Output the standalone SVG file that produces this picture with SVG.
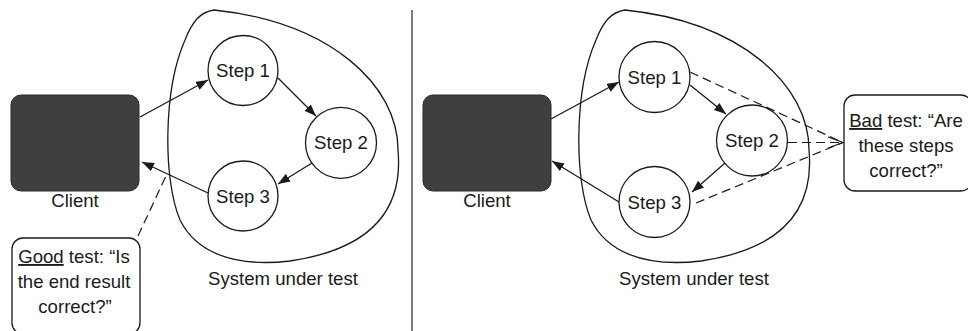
<svg xmlns="http://www.w3.org/2000/svg" width="968" height="331" viewBox="0 0 968 331">
<style>
text{font-family:"Liberation Sans",Arial,sans-serif;font-size:18.6px;fill:#1a1a1a}
.c{text-anchor:middle}
.step{fill:#fff;stroke:#1a1a1a;stroke-width:1.3}
.blob{fill:none;stroke:#1a1a1a;stroke-width:1.3}
.client{fill:#3f3f3f;stroke:#2a2a2a;stroke-width:1}
.note{fill:#fff;stroke:#1a1a1a;stroke-width:1.3}
.arr{stroke:#1a1a1a;stroke-width:1.3;fill:none;marker-end:url(#ah)}
.dash{stroke:#1a1a1a;stroke-width:1.2;fill:none;stroke-dasharray:9 5}
</style>
<defs>
<marker id="ah" markerUnits="userSpaceOnUse" markerWidth="13" markerHeight="10" refX="12" refY="4.5" orient="auto">
<path d="M0,0 L12,4.5 L0,9 z" fill="#1a1a1a"/>
</marker>
<path id="blobshape" d="M214,10 C330,22 398,85 398,150 C404,215 365,250 290,261 C230,268 195,250 180,220 C163,180 163,90 185,40 C192,22 200,12 214,10 Z"/>
</defs>

<line x1="412" y1="10" x2="412" y2="331" stroke="#333" stroke-width="1.3"/>

<!-- Left panel -->
<g id="sut-left">
<use href="#blobshape" class="blob"/>
<text class="c" x="283" y="285">System under test</text>
</g>
<g id="client-left">
<rect class="client" x="11" y="95" width="128" height="96" rx="10"/>
<text class="c" x="75" y="207">Client</text>
</g>
<g id="step1-left">
<circle class="step" cx="243" cy="70.5" r="35"/>
<text class="c" x="243" y="77">Step 1</text>
</g>
<g id="step2-left">
<circle class="step" cx="341" cy="142.8" r="35.5"/>
<text class="c" x="341" y="149.3">Step 2</text>
</g>
<g id="step3-left">
<circle class="step" cx="243" cy="196" r="35"/>
<text class="c" x="243" y="202.5">Step 3</text>
</g>
<g id="good-test">
<rect class="note" x="12" y="238" width="128" height="96" rx="11"/>
<text class="c" x="74" y="263"><tspan text-decoration="underline">Good</tspan> test: “Is</text>
<text class="c" x="74" y="288">the end result</text>
<text class="c" x="75" y="313">correct?”</text>
</g>

<!-- Right panel -->
<g id="sut-right">
<use href="#blobshape" class="blob" transform="translate(411,0)"/>
<text class="c" x="694" y="285">System under test</text>
</g>
<g id="client-right">
<rect class="client" x="423" y="95" width="128" height="96" rx="10"/>
<text class="c" x="487" y="207">Client</text>
</g>
<g id="step1-right">
<circle class="step" cx="654.5" cy="77" r="35.5"/>
<text class="c" x="654.5" y="83.5">Step 1</text>
</g>
<g id="step2-right">
<circle class="step" cx="752" cy="140.5" r="35.5"/>
<text class="c" x="752" y="147">Step 2</text>
</g>
<g id="step3-right">
<circle class="step" cx="654.5" cy="202" r="35.5"/>
<text class="c" x="654.5" y="208.5">Step 3</text>
</g>
<g id="bad-test">
<rect class="note" x="844" y="95" width="128" height="96" rx="11"/>
<text class="c" x="906" y="127"><tspan text-decoration="underline">Bad</tspan> test: “Are</text>
<text class="c" x="906" y="152">these steps</text>
<text class="c" x="906" y="177">correct?”</text>
</g>

<g id="connectors">
<line class="arr" x1="140" y1="117" x2="208" y2="80"/>
<line class="arr" x1="278" y1="78" x2="316" y2="116"/>
<line class="arr" x1="312" y1="163" x2="278" y2="184"/>
<line class="arr" x1="208" y1="193" x2="142" y2="162"/>
<line class="dash" x1="138" y1="236" x2="166" y2="176"/>

<line class="arr" x1="551" y1="119" x2="619" y2="82"/>
<line class="arr" x1="690" y1="85" x2="726" y2="114"/>
<line class="arr" x1="725" y1="163" x2="692" y2="192"/>
<line class="arr" x1="619" y1="202" x2="552" y2="161"/>

<line class="dash" x1="690" y1="72" x2="843" y2="142.5"/>
<line class="dash" x1="788" y1="142.5" x2="843" y2="142.5"/>
<line class="dash" x1="696" y1="203" x2="843" y2="142.5"/>
<polyline points="828,137 843,142.5 828,148" fill="none" stroke="#1a1a1a" stroke-width="1.2"/>
</g>
</svg>
